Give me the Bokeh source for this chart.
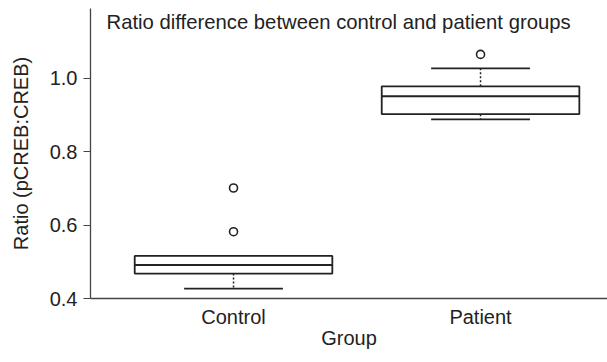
from bokeh.plotting import figure
from bokeh.models import Range1d, FixedTicker, Label, ColumnDataSource, NumeralTickFormatter
from bokeh.embed import file_html
from bokeh.resources import INLINE

# ---- data ----
groups = ["Control", "Patient"]
q1 = [0.468, 0.902]
median = [0.491, 0.951]
q3 = [0.516, 0.978]
whisker_low = [0.427, 0.888]
whisker_high = [0.516, 1.027]
outlier_groups = ["Control", "Control", "Patient"]
outlier_values = [0.701, 0.582, 1.065]
y_ticks = [0.4, 0.6, 0.8, 1.0]

FONT = "Liberation Sans"
INK = "#222222"
BOX_W = 0.8
CAP_W = 0.4
FS = "20px"

xpos = list(range(len(groups)))
src = ColumnDataSource(dict(
    x=xpos,
    left=[x - BOX_W / 2 for x in xpos],
    right=[x + BOX_W / 2 for x in xpos],
    cap_l=[x - CAP_W / 2 for x in xpos],
    cap_r=[x + CAP_W / 2 for x in xpos],
    q1=q1, q3=q3, med=median, lo=whisker_low, hi=whisker_high,
))
out_src = ColumnDataSource(dict(
    x=[groups.index(g) for g in outlier_groups],
    y=outlier_values,
))

p = figure(frame_width=517, frame_height=290, output_backend="svg", toolbar_location=None,
           x_range=Range1d(-0.579, 1.514), y_range=Range1d(0.4, 1.19),
           min_border_left=90, min_border_right=0, min_border_top=8, min_border_bottom=0)
p.outline_line_color = None
p.xgrid.visible = False
p.ygrid.visible = False
p.background_fill_color = "white"

# whiskers (dashed)
p.segment(x0="x", y0="q3", x1="x", y1="hi", source=src, line_color=INK, line_width=1.5, line_dash="2 2")
p.segment(x0="x", y0="q1", x1="x", y1="lo", source=src, line_color=INK, line_width=1.5, line_dash="2 2")
# caps
p.segment(x0="cap_l", y0="hi", x1="cap_r", y1="hi", source=src, line_color=INK, line_width=1.8)
p.segment(x0="cap_l", y0="lo", x1="cap_r", y1="lo", source=src, line_color=INK, line_width=1.8)
# boxes
p.quad(left="left", right="right", bottom="q1", top="q3", source=src,
       fill_color="white", line_color=INK, line_width=1.8)
# medians
p.segment(x0="left", y0="med", x1="right", y1="med", source=src, line_color=INK, line_width=2)
# outliers
p.scatter(x="x", y="y", source=out_src, marker="circle", size=8,
          fill_color="white", line_color=INK, line_width=1.6)

# axes
xa = p.xaxis[0]
xa.ticker = FixedTicker(ticks=xpos)
xa.major_label_overrides = {i: g for i, g in enumerate(groups)}
xa.major_tick_line_color = None
xa.major_tick_out = 0
xa.major_tick_in = 0
xa.minor_tick_line_color = None
xa.minor_tick_out = 0
xa.axis_line_color = "#444444"
xa.axis_line_width = 1.3
xa.major_label_standoff = 7
xa.major_label_text_font = FONT
xa.major_label_text_font_size = FS
xa.major_label_text_color = INK
xa.axis_label = "Group"
xa.axis_label_text_font = FONT
xa.axis_label_text_font_size = FS
xa.axis_label_text_font_style = "normal"
xa.axis_label_text_color = INK
xa.axis_label_standoff = -4

ya = p.yaxis[0]
ya.ticker = FixedTicker(ticks=y_ticks)
ya.formatter = NumeralTickFormatter(format="0.0")
ya.minor_tick_line_color = None
ya.major_tick_in = 0
ya.major_tick_out = 7
ya.major_tick_line_color = "#444444"
ya.axis_line_color = "#444444"
ya.axis_line_width = 1.3
ya.major_label_standoff = 6
ya.major_label_text_font = FONT
ya.major_label_text_font_size = FS
ya.major_label_text_color = INK
ya.axis_label = "Ratio (pCREB:CREB)"
ya.axis_label_text_font = FONT
ya.axis_label_text_font_size = FS
ya.axis_label_text_font_style = "normal"
ya.axis_label_text_color = INK
ya.axis_label_standoff = 15

title = Label(x=16, y=288, x_units="screen", y_units="screen",
              text="Ratio difference between control and patient groups",
              text_font=FONT, text_font_size="20.3px", text_color=INK,
              text_baseline="top", text_align="left")
p.add_layout(title)

open("out.html", "w").write(file_html(p, INLINE))
